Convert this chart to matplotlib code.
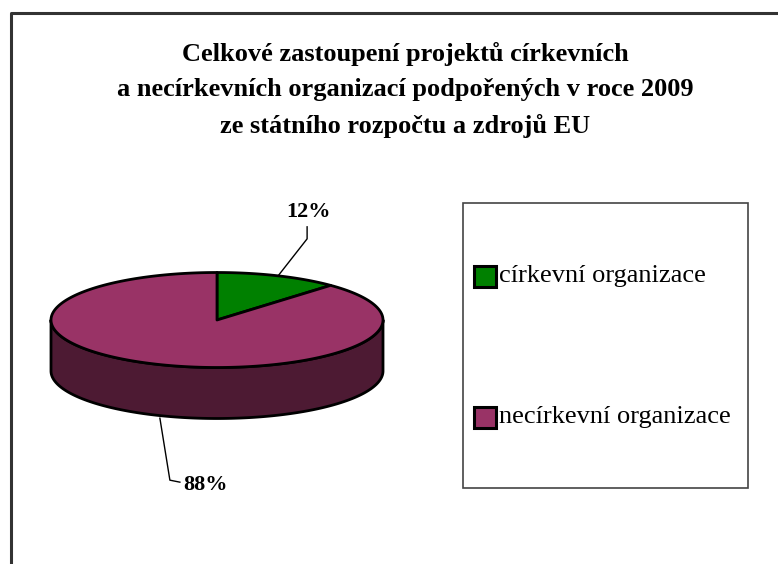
import numpy as np
import matplotlib.pyplot as plt
from matplotlib.patches import Polygon, Rectangle

# data
categories = ['církevní organizace', 'necírkevní organizace']
shares = [12, 88]
labels = ['12%', '88%']
colors = ['#008000', '#993366']
side_colors = ['#004000', '#4d1a33']
title = ('Celkové zastoupení projektů církevních\n'
         'a necírkevních organizací podpořených v roce 2009\n'
         'ze státního rozpočtu a zdrojů EU')

plt.rcParams['font.family'] = ['Liberation Serif', 'DejaVu Serif']

W, H = 778, 564
fig = plt.figure(figsize=(W / 100, H / 100), dpi=100)
ax = fig.add_axes([0, 0, 1, 1])
ax.set_xlim(0, W)
ax.set_ylim(H, 0)
ax.axis('off')

# chart frame (only top and left edges visible)
ax.plot([11, 11, W], [H, 13, 13], color='#333333', lw=2.2, solid_capstyle='butt')

ax.text(405, 90, title, ha='center', va='center', fontsize=19,
        fontweight='bold', linespacing=1.65)

# 3D pie geometry
cx, cy, rx, ry, depth = 217, 320, 166, 47.5, 51


def pt(theta, dy=0.0):
    # theta in degrees, clockwise from top
    t = np.radians(theta)
    return cx + rx * np.sin(t), cy - ry * np.cos(t) + dy


frac = np.array(shares, dtype=float) / sum(shares)
edges = np.concatenate([[0], np.cumsum(frac) * 360])

# sides (front half: theta between 90 and 270)
for i in range(len(shares)):
    a0, a1 = max(edges[i], 90), min(edges[i + 1], 270)
    if a1 <= a0:
        continue
    th = np.linspace(a0, a1, 200)
    top = [pt(t) for t in th]
    bot = [pt(t, depth) for t in th[::-1]]
    ax.add_patch(Polygon(top + bot, closed=True, fc=side_colors[i],
                         ec='black', lw=2, joinstyle='round'))

# tops
for i in range(len(shares)):
    th = np.linspace(edges[i], edges[i + 1], 300)
    verts = [(cx, cy)] + [pt(t) for t in th]
    ax.add_patch(Polygon(verts, closed=True, fc=colors[i], ec='black',
                         lw=2, joinstyle='round'))

# data labels with leader lines
mid = (edges[:-1] + edges[1:]) / 2
# 12%
x0, y0 = pt(mid[0])
ax.plot([x0, x0 + 29, x0 + 29], [y0, y0 - 37, y0 - 49], color='black', lw=1)
ax.text(x0 + 30, y0 - 64, labels[0], ha='center', va='center',
        fontsize=16, fontweight='bold')
# 88%
x1, y1 = pt(mid[1], depth)
ax.plot([x1 + 4, x1 + 14, x1 + 24], [y1 + 3, y1 + 65, y1 + 67], color='black', lw=1)
ax.text(x1 + 27, y1 + 70, labels[1], ha='left', va='center',
        fontsize=16, fontweight='bold')

# legend
ax.add_patch(Rectangle((463, 203), 285, 285, fc='white', ec='#444444', lw=1.2))
for k, (name, c) in enumerate(zip(categories, colors)):
    yy = 276 + k * 141
    ax.add_patch(Rectangle((474, yy - 10), 22, 21, fc=c, ec='black', lw=2.2))
    ax.text(499, yy, name, ha='left', va='center', fontsize=19)

fig.savefig('out.png', dpi=100)
